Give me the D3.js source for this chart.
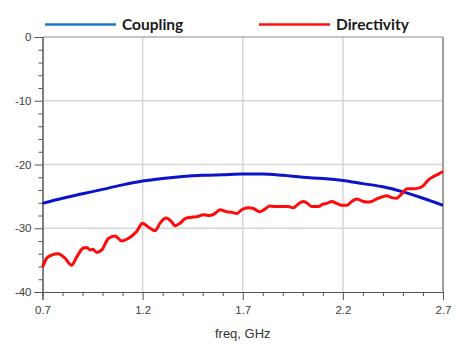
<!DOCTYPE html>
<html>
<head>
<meta charset="utf-8">
<script src="https://cdn.jsdelivr.net/npm/d3@7"></script>
<style>
html,body{margin:0;padding:0;background:#fff;}
svg{display:block;}
</style>
</head>
<body>
<svg id="chart" width="458" height="351"></svg>
<script>
// ---- data ----
const seriesNames = ["Coupling", "Directivity"];
const couplingFreq = [0.7,0.8,0.9,1.0,1.1,1.2,1.3,1.4,1.5,1.6,1.7,1.8,1.9,2.0,2.1,2.2,2.3,2.4,2.5,2.6,2.7];
const couplingDb   = [-26.1,-25.3,-24.6,-23.9,-23.2,-22.6,-22.2,-21.9,-21.7,-21.6,-21.5,-21.5,-21.7,-22.0,-22.2,-22.5,-23.0,-23.5,-24.3,-25.3,-26.4];
const directivityFreq = [0.700,0.721,0.746,0.779,0.812,0.846,0.871,0.904,0.921,0.937,0.951,0.971,0.996,1.029,1.062,1.096,1.128,1.170,1.200,1.228,1.262,1.287,1.317,1.345,1.362,1.387,1.412,1.437,1.470,1.503,1.536,1.561,1.586,1.620,1.645,1.670,1.695,1.728,1.753,1.783,1.811,1.836,1.861,1.895,1.927,1.952,1.977,2.002,2.019,2.044,2.077,2.102,2.119,2.144,2.169,2.194,2.219,2.244,2.269,2.294,2.319,2.344,2.369,2.394,2.419,2.444,2.469,2.485,2.502,2.519,2.552,2.577,2.602,2.627,2.652,2.677,2.700];
const directivityDb = [-36.1,-34.7,-34.2,-34.0,-34.7,-35.8,-34.5,-33.1,-33.0,-33.4,-33.3,-33.8,-33.4,-31.6,-31.2,-32.0,-31.6,-30.5,-29.2,-29.8,-30.4,-29.2,-28.4,-29.0,-29.6,-29.2,-28.5,-28.3,-28.2,-27.9,-28.0,-27.7,-27.1,-27.4,-27.5,-27.7,-27.1,-26.8,-26.9,-27.4,-27.0,-26.5,-26.6,-26.6,-26.6,-26.8,-26.2,-25.8,-26.0,-26.6,-26.6,-26.2,-26.1,-25.8,-26.1,-26.4,-26.4,-25.8,-25.4,-25.7,-25.9,-25.8,-25.4,-25.1,-24.9,-25.2,-25.3,-24.9,-24.3,-23.8,-23.8,-23.7,-23.3,-22.4,-21.9,-21.5,-21.1];
const xMajorTicks = [0.7,1.2,1.7,2.2,2.7];
const xMinorTicks = [0.8,0.9,1.0,1.1,1.3,1.4,1.5,1.6,1.8,1.9,2.0,2.1,2.3,2.4,2.5,2.6];
const yMajorTicks = [0,-10,-20,-30,-40];
const yMinorTicks = [-2,-4,-6,-8,-12,-14,-16,-18,-22,-24,-26,-28,-32,-34,-36,-38];
const xLabel = "freq, GHz";

// ---- layout ----
const svg = d3.select("#chart");
const L = 42.5, R = 443, T = 37, B = 292;
const x = d3.scaleLinear().domain([0.7, 2.7]).range([L, R]);
const y = d3.scaleLinear().domain([-40, 0]).range([B, T]);

// gridlines
const grid = svg.append("g");
grid.selectAll("line.gx").data(xMajorTicks.slice(1, -1)).join("line")
  .attr("x1", d => x(d)).attr("x2", d => x(d)).attr("y1", T).attr("y2", B)
  .attr("stroke", "#d6d6d6").attr("stroke-width", 1.5);
grid.selectAll("line.gy").data(yMajorTicks.slice(1, -1)).join("line")
  .attr("y1", d => y(d)).attr("y2", d => y(d)).attr("x1", L).attr("x2", R)
  .attr("stroke", "#d6d6d6").attr("stroke-width", 1.5);

// frame top/right
svg.append("line").attr("x1", L).attr("x2", R).attr("y1", T).attr("y2", T)
  .attr("stroke", "#8a8a8a").attr("stroke-width", 1);
svg.append("line").attr("x1", R).attr("x2", R).attr("y1", T).attr("y2", B)
  .attr("stroke", "#a0a0a0").attr("stroke-width", 2);

// axes
const tickColor = "#555";
const xAxisMajor = d3.axisBottom(x).tickValues(xMajorTicks).tickFormat(d => d.toFixed(1)).tickSize(8).tickPadding(6);
const xAxisMinor = d3.axisBottom(x).tickValues(xMinorTicks).tickFormat("").tickSize(4);
const yAxisMajor = d3.axisLeft(y).tickValues(yMajorTicks).tickFormat(d => String(d)).tickSize(8).tickPadding(3);
const yAxisMinor = d3.axisLeft(y).tickValues(yMinorTicks).tickFormat("").tickSize(4);

function styleAxis(g) {
  g.select(".domain").attr("stroke", tickColor).attr("stroke-width", 1);
  g.selectAll(".tick line").attr("stroke", tickColor);
  g.selectAll("text").attr("fill", "#404040")
    .style("font-family", "'Liberation Sans', Arial, sans-serif").style("font-size", "11.5px");
}
svg.append("g").attr("transform", `translate(0,${B})`).call(xAxisMinor).call(styleAxis);
svg.append("g").attr("transform", `translate(0,${B})`).call(xAxisMajor).call(styleAxis);
svg.append("g").attr("transform", `translate(${L},0)`).call(yAxisMinor).call(styleAxis);
svg.append("g").attr("transform", `translate(${L},0)`).call(yAxisMajor).call(styleAxis);

// x label
svg.append("text").attr("x", (L + R) / 2).attr("y", 338).attr("text-anchor", "middle")
  .attr("fill", "#333").style("font-family", "'Liberation Sans', Arial, sans-serif")
  .style("font-size", "13px").text(xLabel);

// lines
const line = d3.line().x(d => x(d[0])).y(d => y(d[1])).curve(d3.curveMonotoneX);
const coupling = couplingFreq.map((f, i) => [f, couplingDb[i]]);
const directivity = directivityFreq.map((f, i) => [f, directivityDb[i]]);

svg.append("path").datum(coupling).attr("d", line)
  .attr("fill", "none").attr("stroke", "#0a14c8").attr("stroke-width", 3);
svg.append("path").datum(directivity).attr("d", line)
  .attr("fill", "none").attr("stroke", "#ff0a0a").attr("stroke-width", 3).attr("stroke-linejoin", "round");

// legend
const legend = [
  {name: seriesNames[0], color: "#1a78c8", x1: 45, x2: 116, tx: 122},
  {name: seriesNames[1], color: "#ff1010", x1: 259, x2: 330, tx: 336}
];
const lg = svg.append("g");
legend.forEach(d => {
  lg.append("line").attr("x1", d.x1).attr("x2", d.x2).attr("y1", 24.5).attr("y2", 24.5)
    .attr("stroke", d.color).attr("stroke-width", 2.5);
  lg.append("text").attr("x", d.tx).attr("y", 29.5).attr("fill", "#1a1a1a")
    .style("font-family", "Lato, 'Open Sans', sans-serif").style("font-weight", "bold")
    .style("font-size", "15.5px").text(d.name);
});
</script>
</body>
</html>
